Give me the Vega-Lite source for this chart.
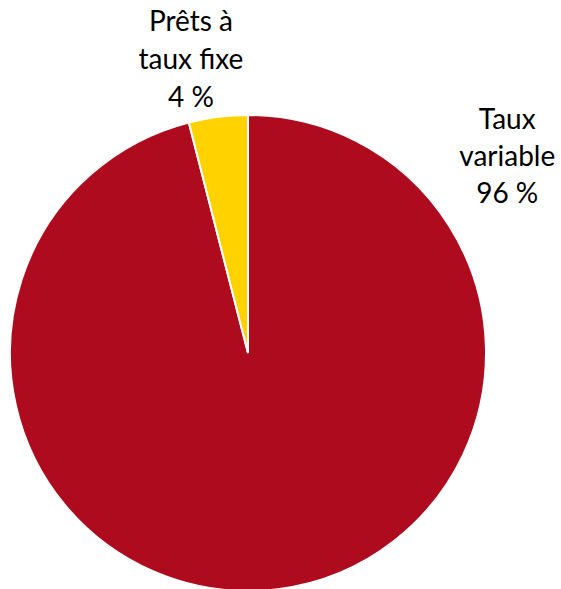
{
  "$schema": "https://vega.github.io/schema/vega-lite/v6.json",
  "width": 476,
  "height": 476,
  "autosize": {"type": "none"},
  "padding": {"left": 10, "top": 115, "right": 75, "bottom": 0},
  "background": "white",
  "config": {"view": {"stroke": null}},
  "data": {
    "values": [
      {"categorie": "Taux variable", "part": 96, "label": "Taux\nvariable\n96 %"},
      {"categorie": "Prêts à taux fixe", "part": 4, "label": "Prêts à\ntaux fixe\n4 %"}
    ]
  },
  "layer": [
    {
      "mark": {"type": "arc", "stroke": "#ffffff", "strokeWidth": 2},
      "encoding": {
        "theta": {"field": "part", "type": "quantitative", "stack": true},
        "order": {"field": "part", "type": "quantitative", "sort": "descending"},
        "color": {
          "field": "categorie",
          "type": "nominal",
          "scale": {"domain": ["Taux variable", "Prêts à taux fixe"], "range": ["#AE0C1E", "#FFD200"]},
          "legend": null
        }
      }
    },
    {
      "transform": [{"filter": "datum.part < 50"}],
      "mark": {"type": "text", "font": "Lato", "fontSize": 28, "lineBreak": "\n", "lineHeight": 38, "align": "center", "baseline": "middle", "color": "#000000"},
      "encoding": {
        "text": {"field": "label"},
        "theta": {"value": 6.1121},
        "radius": {"value": 335}
      }
    },
    {
      "transform": [{"filter": "datum.part > 50"}],
      "mark": {"type": "text", "font": "Lato", "fontSize": 28, "lineBreak": "\n", "lineHeight": 37, "align": "center", "baseline": "middle", "color": "#000000"},
      "encoding": {
        "text": {"field": "label"},
        "theta": {"value": 0.8404},
        "radius": {"value": 348}
      }
    }
  ]
}
